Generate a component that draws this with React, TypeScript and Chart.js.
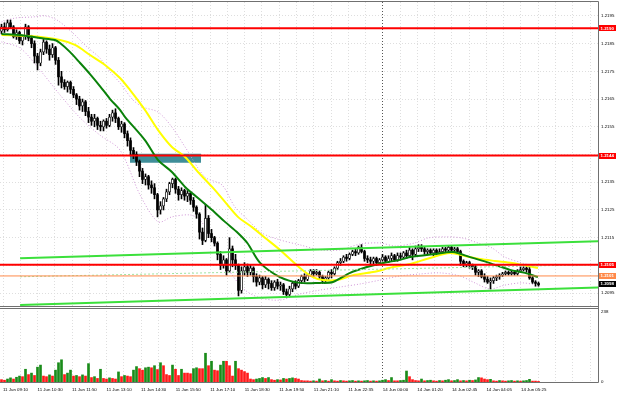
import React, { useEffect, useRef } from 'react';
import { Chart, registerables } from 'chart.js';

Chart.register(...registerables);

// ---------- data (EURUSD M5-like) ----------
const OPEN = [1.21895,1.2191,1.219,1.21925,1.2191,1.21875,1.2189,1.2186,1.21875,1.2191,
1.2187,1.2185,1.21805,1.2178,1.2182,1.21855,1.2183,1.2181,1.21835,1.2179,
1.2173,1.2171,1.21695,1.2171,1.21685,1.21665,1.2165,1.21625,1.2164,1.21605,
1.21585,1.2157,1.2158,1.21555,1.2155,1.2157,1.21555,1.21585,1.216,1.2158,
1.2155,1.2156,1.21525,1.215,1.21465,1.2145,1.21425,1.2139,1.2136,1.2137,
1.2134,1.2133,1.21305,1.2125,1.21265,1.2129,1.21315,1.21345,1.2136,1.21325,
1.21305,1.2132,1.213,1.2131,1.21285,1.2126,1.21235,1.2117,1.2114,1.2122,
1.21165,1.2115,1.2113,1.2109,1.2105,1.2107,1.2103,1.2111,1.2107,1.2105,
1.2096,1.2103,1.21045,1.21025,1.2104,1.2101,1.2099,1.21005,1.2098,1.21,
1.20985,1.2097,1.2099,1.20975,1.2098,1.20955,1.20945,1.20965,1.20985,1.20975,
1.20995,1.2101,1.21,1.21015,1.2103,1.2102,1.21025,1.2101,1.20995,1.21005,
1.21025,1.2102,1.2104,1.2106,1.21065,1.2108,1.21075,1.2109,1.211,1.21095,
1.21115,1.211,1.21075,1.2107,1.21065,1.21075,1.2106,1.2107,1.2108,1.21065,
1.21075,1.21085,1.2107,1.21085,1.2108,1.21095,1.21085,1.21105,1.2109,1.2111,
1.21115,1.2111,1.211,1.21105,1.21095,1.21105,1.21095,1.211,1.2111,1.21105,
1.21115,1.21105,1.2111,1.211,1.21065,1.21055,1.2106,1.2105,1.21045,1.21025,
1.2103,1.2101,1.21,1.2099,1.20995,1.21005,1.2101,1.21015,1.2102,1.21025,
1.2102,1.21025,1.2102,1.2103,1.21035,1.2104,1.21035,1.21005,1.2099,1.20985];

const CLOSE = [1.2191,1.219,1.21925,1.2191,1.21875,1.2189,1.2186,1.21875,1.2191,1.2187,
1.2185,1.21805,1.2178,1.2182,1.21855,1.2183,1.2181,1.21835,1.2179,1.2173,
1.2171,1.21695,1.2171,1.21685,1.21665,1.2165,1.21625,1.2164,1.21605,1.21585,
1.2157,1.2158,1.21555,1.2155,1.2157,1.21555,1.21585,1.216,1.2158,1.2155,
1.2156,1.21525,1.215,1.21465,1.2145,1.21425,1.2139,1.2136,1.2137,1.2134,
1.2133,1.21305,1.2125,1.21265,1.2129,1.21315,1.21345,1.2136,1.21325,1.21305,
1.2132,1.213,1.2131,1.21285,1.2126,1.21235,1.2117,1.2114,1.2122,1.21165,
1.2115,1.2113,1.2109,1.2105,1.2107,1.2103,1.2111,1.2107,1.2105,1.2096,
1.2103,1.21045,1.21025,1.2104,1.2101,1.2099,1.21005,1.2098,1.21,1.20985,
1.2097,1.2099,1.20975,1.2098,1.20955,1.20945,1.20965,1.20985,1.20975,1.20995,
1.2101,1.21,1.21015,1.2103,1.2102,1.21025,1.2101,1.20995,1.21005,1.21025,
1.2102,1.2104,1.2106,1.21065,1.2108,1.21075,1.2109,1.211,1.21095,1.21115,
1.211,1.21075,1.2107,1.21065,1.21075,1.2106,1.2107,1.2108,1.21065,1.21075,
1.21085,1.2107,1.21085,1.2108,1.21095,1.21085,1.21105,1.2109,1.2111,1.21115,
1.2111,1.211,1.21105,1.21095,1.21105,1.21095,1.211,1.2111,1.21105,1.21115,
1.21105,1.2111,1.211,1.21065,1.21055,1.2106,1.2105,1.21045,1.21025,1.2103,
1.2101,1.21,1.2099,1.20995,1.21005,1.2101,1.21015,1.2102,1.21025,1.2102,
1.21025,1.2102,1.2103,1.21035,1.2104,1.21035,1.21005,1.2099,1.20985,1.2098];

const HIGH = [1.2192,1.21925,1.21935,1.21935,1.21915,1.219,1.21895,1.2188,1.2192,1.21915,
1.2188,1.2186,1.21815,1.2183,1.21865,1.2186,1.21845,1.2185,1.2184,1.218,
1.2175,1.2172,1.21715,1.21715,1.21695,1.2167,1.2166,1.2165,1.21645,1.2162,
1.21595,1.21595,1.21585,1.2157,1.21575,1.2158,1.21595,1.2161,1.21615,1.21585,
1.2157,1.21565,1.21535,1.2151,1.21475,1.2146,1.2143,1.214,1.2138,1.21375,
1.21355,1.21345,1.2131,1.2128,1.21295,1.21325,1.2135,1.21365,1.21365,1.21335,
1.2133,1.21325,1.2132,1.21315,1.21295,1.21265,1.2124,1.21185,1.2127,1.2123,
1.2118,1.21155,1.21135,1.211,1.21085,1.21075,1.2115,1.2112,1.2109,1.21055,
1.21045,1.2106,1.21055,1.2105,1.21045,1.2102,1.21015,1.2101,1.2101,1.21005,
1.20995,1.20995,1.21,1.2099,1.20985,1.20965,1.20975,1.2099,1.20995,1.21,
1.21015,1.2102,1.2102,1.21035,1.21035,1.21035,1.2103,1.21015,1.2101,1.2103,
1.21035,1.21045,1.21065,1.21075,1.21085,1.2109,1.21095,1.21105,1.2111,1.2112,
1.21125,1.21105,1.21085,1.2108,1.2108,1.2108,1.21075,1.2109,1.21085,1.21085,
1.21095,1.2109,1.21095,1.21095,1.211,1.21105,1.21115,1.2111,1.2112,1.21125,
1.21125,1.21115,1.2111,1.2111,1.2111,1.2111,1.2111,1.21115,1.21115,1.2112,
1.2112,1.21115,1.21115,1.21105,1.2107,1.21065,1.21065,1.21055,1.2105,1.21035,
1.21035,1.2102,1.2101,1.21005,1.2101,1.21015,1.2102,1.21025,1.2103,1.2103,
1.2103,1.2103,1.21035,1.21045,1.21045,1.21045,1.21045,1.2101,1.20995,1.2099];

const LOW = [1.21885,1.2189,1.21895,1.21905,1.2187,1.21865,1.2185,1.21845,1.21865,1.2186,
1.21835,1.2178,1.21755,1.2177,1.2181,1.21815,1.2179,1.218,1.21775,1.217,
1.2169,1.21685,1.21675,1.2167,1.21655,1.2163,1.2161,1.21605,1.2159,1.21565,
1.21555,1.2155,1.2154,1.21535,1.21535,1.21545,1.2155,1.2157,1.21565,1.2154,
1.2153,1.2151,1.2148,1.21445,1.21435,1.2141,1.2137,1.21345,1.2134,1.21325,
1.2131,1.2129,1.21225,1.21235,1.2125,1.2128,1.21305,1.2133,1.2131,1.21285,
1.2129,1.21285,1.2128,1.2127,1.21245,1.2122,1.21145,1.21125,1.21135,1.2115,
1.21135,1.2112,1.2107,1.21035,1.2104,1.21015,1.21025,1.21045,1.21035,1.2094,
1.2095,1.21015,1.2101,1.21015,1.2099,1.20975,1.2098,1.20965,1.2097,1.20965,
1.2096,1.2096,1.20965,1.2096,1.20945,1.20935,1.2094,1.20955,1.20965,1.2097,
1.20985,1.2099,1.20995,1.2101,1.2101,1.21015,1.21,1.20985,1.2099,1.21,
1.21005,1.21015,1.21035,1.2105,1.2106,1.21065,1.2107,1.21085,1.21085,1.2109,
1.21095,1.21065,1.2106,1.21055,1.21055,1.2105,1.21055,1.21065,1.2106,1.2106,
1.21065,1.21065,1.21065,1.2107,1.21075,1.21075,1.2108,1.2107,1.21085,1.211,
1.211,1.2109,1.2109,1.2109,1.21085,1.21085,1.2109,1.21095,1.21095,1.211,
1.211,1.21095,1.2109,1.2105,1.21045,1.21045,1.2104,1.21035,1.21015,1.2101,
1.21005,1.2099,1.20985,1.20965,1.20985,1.20995,1.21,1.2101,1.21015,1.21015,
1.21015,1.21015,1.21015,1.21025,1.2103,1.21025,1.21,1.20985,1.20975,1.20975];

const VOLUME = [8,6,10,14,10,16,20,18,43,25,
30,22,50,57,20,18,24,20,40,65,
75,25,30,40,20,22,18,24,20,62,
15,18,12,43,12,10,14,12,10,34,
18,22,20,18,40,52,45,40,48,50,
48,55,42,65,55,25,22,57,43,22,
43,30,30,28,45,48,45,45,97,55,
70,40,38,57,70,70,55,20,70,45,
40,35,30,10,8,10,12,15,12,15,
8,6,8,7,12,10,12,14,12,10,
5,4,4,3,4,3,10,4,5,3,
8,4,3,5,4,3,4,5,3,4,
3,4,5,3,4,3,4,6,8,5,
15,4,4,5,6,37,18,8,5,4,
10,4,5,6,4,3,5,4,6,8,
4,5,8,4,5,4,6,5,7,15,
14,10,8,9,4,3,5,4,3,4,
5,3,4,3,4,5,9,3,3,2];

// [bar index, price]
const MA_GREEN = [[0,1.21885],[6.2,1.21881],[12.8,1.2187],[17.8,1.21863],[19.5,1.21852],[22.8,1.2182],[26.2,1.2178],[29.5,1.2174],[32.8,1.21697],[36.2,1.2165],[39.5,1.21611],[41.2,1.21585],[47.8,1.21502],[52.2,1.2143],[56.8,1.21387],[61.2,1.21333],[65.5,1.21293],[70.2,1.2125],[74.5,1.21207],[78.8,1.21167],[82,1.2113],[86.2,1.21059],[92.8,1.21008],[99.5,1.20987],[106.2,1.20987],[110.5,1.2099],[116.2,1.21023],[121.8,1.21044],[127.2,1.21059],[132.8,1.2107],[136.2,1.2108],[144.5,1.21091],[150.5,1.21098],[156.2,1.2108],[161.8,1.21062],[169.5,1.21034],[174.5,1.21023],[178.8,1.21008]];
const MA_YELLOW = [[0,1.21881],[9.5,1.21877],[19.5,1.21863],[24.5,1.21845],[29.5,1.21809],[34.5,1.21773],[39.5,1.21726],[42.8,1.21683],[47.8,1.21611],[52.2,1.21538],[56.8,1.21477],[61.2,1.21441],[65.5,1.21387],[70.2,1.21333],[74.5,1.21279],[78.8,1.21225],[83.5,1.21188],[87.8,1.2115],[92.8,1.21106],[99.5,1.21041],[103.8,1.21008],[107.2,1.20997],[111.8,1.20997],[117.2,1.21015],[123.8,1.21026],[130.5,1.21044],[136.2,1.21055],[142.8,1.21077],[149.5,1.21095],[154.5,1.21084],[159.5,1.21073],[164.5,1.21066],[170.2,1.21059],[175.5,1.21048],[178.8,1.21041]];
const BAND_UPPER = [[0,1.21928],[4.5,1.21942],[10.5,1.21946],[14.5,1.2195],[18.5,1.21935],[23.8,1.21888],[28.5,1.21838],[32.8,1.21798],[36.2,1.21748],[39.5,1.21708],[43.8,1.21647],[47.2,1.21621],[52.2,1.21603],[56.8,1.21549],[61.2,1.21477],[67.8,1.21369],[73.5,1.2134],[77.8,1.21261],[82.2,1.21214],[86.8,1.21167],[92.8,1.21142],[99.5,1.21124],[106.2,1.21106],[112.8,1.21106],[119.5,1.21127],[126.2,1.21131],[131.2,1.2112],[137.8,1.21131],[142.2,1.21149],[147.8,1.21153],[153.5,1.21149],[158.8,1.21131],[163.5,1.21113],[167.8,1.2108],[173.5,1.21059],[178.8,1.21044]];
const BAND_LOWER = [[0,1.21856],[6.2,1.21834],[12.8,1.21755],[19.5,1.21665],[26.2,1.21582],[32.8,1.2152],[39.5,1.21466],[46.2,1.21304],[52.2,1.21207],[56.8,1.21225],[62.8,1.21232],[66.2,1.21214],[71.2,1.21124],[76.2,1.21026],[81.2,1.20961],[86.2,1.20933],[92.8,1.20925],[99.5,1.20947],[106.2,1.20961],[112.8,1.20972],[119.5,1.20983],[126.2,1.20997],[132.8,1.21012],[139.5,1.21019],[146.2,1.21023],[152.8,1.21012],[157.8,1.20987],[162.8,1.20965],[167.8,1.20979],[173.5,1.20987],[178.8,1.20979]];

const CHANNEL_UPPER = [[6.2,1.21076],[198.83,1.21137]];
const CHANNEL_MID = [[6.2,1.21009],[198.83,1.21053]];
const CHANNEL_LOWER = [[6.2,1.20907],[198.83,1.2097]];

const RESIST_PRICES = [1.21905, 1.21446, 1.21052];
const RESIST_LABELS = ['1.2190', '1.2144', '1.2105'];
const SUPPORT_PRICE = 1.21012;
const SUPPORT_LABEL = '1.2101';
const LAST_PRICE = 1.20983;
const LAST_LABEL = '1.2098';
const ZONE = { from: 42.8, to: 66.5, top: 1.21453, bottom: 1.2142 };

const TIME_LABELS = ['11 Jun 09:10','11 Jun 10:30','11 Jun 11:50','11 Jun 13:10','11 Jun 14:30','11 Jun 15:50','11 Jun 17:10','11 Jun 18:30','11 Jun 19:50','11 Jun 21:10','11 Jun 22:35','14 Jun 00:00','14 Jun 01:20','14 Jun 02:45','14 Jun 04:05','14 Jun 05:25'];
const DAY_BREAK_LABEL = '14 Jun 00:00';
const PRICE_TICKS = [1.2195,1.2185,1.2175,1.2165,1.2155,1.2145,1.2135,1.2125,1.2115,1.2105,1.2095];
const HIDDEN_PRICE_TICKS = [1.2145, 1.2105];
const VOLUME_TICKS = [0, 238];

// ---------- layout / style ----------
const X_MIN = -0.5;
const X_MAX = 198.83;
const FIRST_TICK = 0.5;
const BARS_PER_LABEL = 11.51;
const GRID_TICKS = 35;
const PRICE_MIN = 1.209;
const PRICE_MAX = 1.22;
const VOL_MAX = 253;

const FONT = "'Liberation Sans', Arial, sans-serif";
const FONT_SIZE = 4.4;
const TEXT = '#000000';
const RED = '#ff0000';
const ORANGE = '#ff8a4a';
const CHANNEL = '#3be03b';
const CHANNEL_MID_C = '#9fe39f';
const MA_G = '#0a820a';
const MA_Y = '#ffff00';
const BAND = '#cf94d6';
const ZONE_C = '#3f8e99';
const GRID = '#dedede';
const DAY_SEP = '#555555';
const FRAME = '#707070';
const VOL_UP = '#1a8c1a';
const VOL_DN = '#ff1a1a';

const pts = (arr: number[][]) => arr.map(([x, y]) => ({ x, y }));
const hline = (p: number) => [{ x: X_MIN, y: p }, { x: X_MAX, y: p }];

const overlay = {
  id: 'mt4overlay',
  afterDraw(chart: any) {
    const { ctx, chartArea } = chart;
    const y = chart.scales.y;
    ctx.save();
    ctx.strokeStyle = FRAME;
    ctx.lineWidth = 1;
    ctx.beginPath();
    ctx.moveTo(chartArea.left, chartArea.top - 0.5);
    ctx.lineTo(chartArea.right + 0.5, chartArea.top - 0.5);
    ctx.moveTo(chartArea.right + 0.5, chartArea.top - 0.5);
    ctx.lineTo(chartArea.right + 0.5, chartArea.bottom + 0.5);
    ctx.moveTo(chartArea.left, Math.round(y.bottom) - 0.5);
    ctx.lineTo(chartArea.right, Math.round(y.bottom) - 0.5);
    ctx.moveTo(chartArea.left, Math.round(y.bottom) + 1.5);
    ctx.lineTo(chartArea.right, Math.round(y.bottom) + 1.5);
    ctx.moveTo(chartArea.left, chartArea.bottom + 0.5);
    ctx.lineTo(chartArea.right + 0.5, chartArea.bottom + 0.5);
    ctx.stroke();

    const boxes: [number, string, string][] = [
      ...RESIST_PRICES.map((p, i) => [p, RESIST_LABELS[i], RED] as [number, string, string]),
      [SUPPORT_PRICE, SUPPORT_LABEL, ORANGE],
      [LAST_PRICE, LAST_LABEL, '#000000'],
    ];
    ctx.font = `bold ${FONT_SIZE}px ${FONT}`;
    ctx.textBaseline = 'middle';
    ctx.textAlign = 'left';
    for (const [p, label, color] of boxes) {
      const py = y.getPixelForValue(p);
      ctx.fillStyle = color;
      ctx.fillRect(chartArea.right + 1, Math.round(py) - 3, 17, 6);
      ctx.fillStyle = '#ffffff';
      ctx.fillText(label, chartArea.right + 2.5, py + 0.3);
    }
    ctx.restore();
  },
};

export default function App() {
  const ref = useRef<HTMLCanvasElement>(null);
  useEffect(() => {
    document.body.style.margin = '0';
    const canvas = ref.current!;
    const idx = OPEN.map((_, i) => i);
    const bull = idx.map((i) => CLOSE[i] >= OPEN[i]);
    const volUp = idx.map((i) => i > 0 && VOLUME[i] > VOLUME[i - 1]);
    const lineDs = (data: any[], color: string, width: number, order: number, dash: number[] = [], tension = 0) => ({
      type: 'line' as const,
      data,
      borderColor: color,
      borderWidth: width,
      borderDash: dash,
      pointRadius: 0,
      tension,
      fill: false,
      order,
      xAxisID: 'x',
      yAxisID: 'y',
    });

    const datasets: any[] = [
      ...RESIST_PRICES.map((p) => lineDs(hline(p), RED, 2, 1)),
      lineDs(hline(SUPPORT_PRICE), ORANGE, 1, 1),
      lineDs(pts(CHANNEL_UPPER), CHANNEL, 2, 2),
      lineDs(pts(CHANNEL_LOWER), CHANNEL, 2, 2),
      lineDs(pts(CHANNEL_MID), CHANNEL_MID_C, 1, 2, [2, 2]),
      lineDs(pts(MA_GREEN), MA_G, 2, 3, [], 0.3),
      lineDs(pts(MA_YELLOW), MA_Y, 2, 4, [], 0.3),
      {
        type: 'bar',
        data: idx.map((i) => ({ x: i, y: [OPEN[i], CLOSE[i]] })),
        backgroundColor: idx.map((i) => (bull[i] ? '#ffffff' : '#000000')),
        borderColor: '#000000',
        borderWidth: idx.map((i) => (bull[i] ? 0.7 : 0)),
        borderSkipped: false,
        barThickness: 2,
        minBarLength: 1,
        grouped: false,
        order: 5,
        xAxisID: 'x',
        yAxisID: 'y',
      },
      {
        type: 'bar',
        data: idx.map((i) => ({ x: i, y: [LOW[i], HIGH[i]] })),
        backgroundColor: '#000000',
        barThickness: 1,
        grouped: false,
        order: 6,
        xAxisID: 'x',
        yAxisID: 'y',
      },
      lineDs(pts(BAND_UPPER), BAND, 1, 7, [1, 2], 0.3),
      lineDs(pts(BAND_LOWER), BAND, 1, 7, [1, 2], 0.3),
      {
        type: 'line',
        data: [{ x: ZONE.from, y: ZONE.top }, { x: ZONE.to, y: ZONE.top }],
        borderWidth: 0,
        pointRadius: 0,
        fill: { value: ZONE.bottom },
        backgroundColor: ZONE_C,
        order: 8,
        xAxisID: 'x',
        yAxisID: 'y',
      },
      {
        type: 'bar',
        data: idx.map((i) => ({ x: i, y: VOLUME[i] })),
        backgroundColor: idx.map((i) => (volUp[i] ? VOL_UP : VOL_DN)),
        barThickness: 2,
        grouped: false,
        order: 9,
        xAxisID: 'x',
        yAxisID: 'yv',
      },
    ];

    const dayBreak = TIME_LABELS.indexOf(DAY_BREAK_LABEL) * 2;
    const tickFont = { family: FONT, size: FONT_SIZE };

    const chart = new Chart(canvas, {
      type: 'bar',
      data: { datasets },
      plugins: [overlay],
      options: {
        animation: false,
        responsive: false,
        maintainAspectRatio: false,
        layout: { padding: { top: 2, left: 0, right: 0, bottom: 0 } },
        plugins: { legend: { display: false }, tooltip: { enabled: false } },
        scales: {
          x: {
            type: 'linear',
            min: X_MIN,
            max: X_MAX,
            offset: false,
            grid: {
              offset: false,
              drawTicks: false,
              color: (c: any) => (c.index === dayBreak ? DAY_SEP : GRID),
              lineWidth: 1,
            },
            border: { display: false, dash: [1, 2] },
            afterBuildTicks: (s: any) => {
              s.ticks = Array.from({ length: GRID_TICKS }, (_, j) => ({ value: FIRST_TICK + (j * BARS_PER_LABEL) / 2 }));
            },
            afterFit: (s: any) => {
              s.height = 13;
              s.paddingLeft = 0;
              s.paddingRight = 0;
            },
            ticks: {
              autoSkip: false,
              maxRotation: 0,
              minRotation: 0,
              align: 'start',
              padding: 5,
              color: TEXT,
              font: tickFont,
              callback: (_v: any, i: number) => (i % 2 === 0 && TIME_LABELS[i / 2] ? TIME_LABELS[i / 2] : ''),
            },
          },
          y: {
            type: 'linear',
            position: 'right',
            stack: 'panes',
            stackWeight: 305,
            min: PRICE_MIN,
            max: PRICE_MAX,
            grid: { color: GRID, drawTicks: false, lineWidth: 1 },
            border: { display: false, dash: [1, 2] },
            afterBuildTicks: (s: any) => {
              s.ticks = PRICE_TICKS.map((v) => ({ value: v }));
            },
            afterFit: (s: any) => {
              s.width = 22;
              s.paddingTop = 0;
              s.paddingBottom = 0;
            },
            ticks: {
              padding: 3,
              color: TEXT,
              font: tickFont,
              callback: (v: any) =>
                HIDDEN_PRICE_TICKS.some((h) => Math.abs(h - Number(v)) < 1e-7) ? '' : Number(v).toFixed(4),
            },
          },
          yv: {
            type: 'linear',
            position: 'right',
            stack: 'panes',
            stackWeight: 75,
            min: 0,
            max: VOL_MAX,
            grid: { display: false, drawTicks: false },
            border: { display: false },
            afterBuildTicks: (s: any) => {
              s.ticks = VOLUME_TICKS.map((v) => ({ value: v }));
            },
            afterFit: (s: any) => {
              s.width = 22;
              s.paddingTop = 0;
              s.paddingBottom = 0;
            },
            ticks: { padding: 3, color: TEXT, font: tickFont, callback: (v: any) => String(v) },
          },
        },
      } as any,
    });
    return () => chart.destroy();
  }, []);
  return (
    <div style={{ position: 'absolute', left: 0, top: 0, width: 620, height: 395, background: '#ffffff' }}>
      <canvas ref={ref} width={620} height={395} style={{ display: 'block' }} />
    </div>
  );
}
